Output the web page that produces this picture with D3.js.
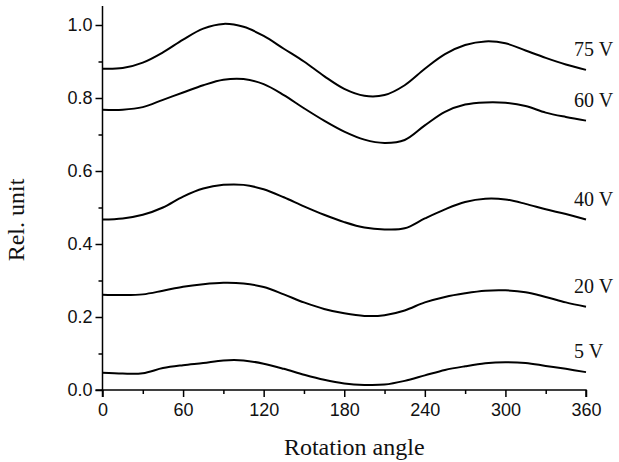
<!DOCTYPE html>
<html>
<head>
<meta charset="utf-8">
<script src="https://cdn.jsdelivr.net/npm/d3@7"></script>
<style>
  html, body { margin: 0; padding: 0; background: #fff; }
  svg { display: block; }
</style>
</head>
<body>
<svg id="chart" width="619" height="462"></svg>
<script>
// ---- data ----
const angles = [0, 15, 30, 45, 60, 75, 90, 105, 120, 135, 150, 165, 180, 195, 210, 225, 240, 255, 270, 285, 300, 315, 330, 345, 360];
const seriesNames = ["75 V", "60 V", "40 V", "20 V", "5 V"];
const v75 = [0.880, 0.882, 0.897, 0.925, 0.960, 0.990, 1.003, 0.995, 0.970, 0.935, 0.900, 0.860, 0.825, 0.806, 0.808, 0.835, 0.880, 0.920, 0.945, 0.955, 0.950, 0.930, 0.910, 0.892, 0.877];
const v60 = [0.768, 0.768, 0.775, 0.795, 0.815, 0.835, 0.850, 0.852, 0.838, 0.808, 0.772, 0.738, 0.708, 0.686, 0.677, 0.685, 0.725, 0.762, 0.782, 0.788, 0.787, 0.778, 0.760, 0.748, 0.738];
const v40 = [0.467, 0.470, 0.480, 0.500, 0.530, 0.552, 0.562, 0.562, 0.550, 0.528, 0.503, 0.480, 0.460, 0.445, 0.440, 0.443, 0.470, 0.495, 0.515, 0.524, 0.522, 0.510, 0.495, 0.482, 0.467];
const v20 = [0.261, 0.260, 0.262, 0.272, 0.283, 0.290, 0.294, 0.292, 0.282, 0.262, 0.240, 0.222, 0.210, 0.203, 0.205, 0.218, 0.240, 0.255, 0.265, 0.272, 0.273, 0.268, 0.255, 0.240, 0.228];
const v5  = [0.047, 0.045, 0.046, 0.060, 0.068, 0.074, 0.081, 0.081, 0.072, 0.058, 0.042, 0.028, 0.018, 0.014, 0.015, 0.025, 0.040, 0.055, 0.065, 0.073, 0.076, 0.074, 0.066, 0.058, 0.049];
const seriesValues = [v75, v60, v40, v20, v5];
const xTicks = [0, 60, 120, 180, 240, 300, 360];
const yTicks = [0.0, 0.2, 0.4, 0.6, 0.8, 1.0];
const xTitle = "Rotation angle";
const yTitle = "Rel. unit";

// ---- layout ----
const svg = d3.select("#chart");
const x = d3.scaleLinear().domain([0, 360]).range([102.5, 586]);
const y = d3.scaleLinear().domain([0, 1]).range([390, 25]);
const sansFont = "'Liberation Sans', Arial, sans-serif";
const serifFont = "'Liberation Serif', 'Times New Roman', serif";

// minor ticks
const xMinor = d3.range(30, 360, 60);
const yMinor = d3.range(0.1, 1.0, 0.2);

const gx = svg.append("g").attr("transform", `translate(0,${y(0)})`);
gx.call(d3.axisBottom(x).tickValues(xTicks).tickFormat(d3.format("d")).tickSize(7).tickPadding(6));
gx.append("g").call(d3.axisBottom(x).tickValues(xMinor).tickFormat("").tickSize(4))
  .select(".domain").remove();

const gy = svg.append("g").attr("transform", `translate(${x(0)},0)`);
gy.call(d3.axisLeft(y).tickValues(yTicks).tickFormat(d3.format(".1f")).tickSize(7).tickPadding(3));
gy.append("g").call(d3.axisLeft(y).tickValues(yMinor).tickFormat("").tickSize(4))
  .select(".domain").remove();
// extend y axis line above 1.0
gy.select(".domain").attr("d", `M-7,${y(0)}H0V6`);
gx.select(".domain").attr("d", `M${x(0)},7V0H${x(360)}V7`);

svg.selectAll(".tick line").attr("stroke", "#000").attr("stroke-width", 1.5);
svg.selectAll(".domain").attr("stroke", "#000").attr("stroke-width", 1.5);
svg.selectAll(".tick text").attr("font-family", sansFont).attr("font-size", 18).attr("fill", "#111");

// curves
const line = d3.line()
  .x((d, i) => x(angles[i]))
  .y(d => y(d))
  .curve(d3.curveCatmullRom.alpha(0.5));

svg.append("g").selectAll("path.series")
  .data(seriesValues)
  .join("path")
  .attr("class", "series")
  .attr("d", d => line(d))
  .attr("fill", "none")
  .attr("stroke", "#000")
  .attr("stroke-width", 2);

// series labels
svg.append("g").selectAll("text.lbl")
  .data(seriesNames)
  .join("text")
  .attr("class", "lbl")
  .attr("x", x(360) - 12)
  .attr("y", (d, i) => y(seriesValues[i][seriesValues[i].length - 1]) - 14)
  .attr("font-family", serifFont)
  .attr("font-size", 20)
  .attr("fill", "#111")
  .text(d => d);

// axis titles
svg.append("text")
  .attr("x", (x(0) + x(360)) / 2 + 10)
  .attr("y", 455)
  .attr("text-anchor", "middle")
  .attr("font-family", serifFont)
  .attr("font-size", 24)
  .attr("fill", "#111")
  .text(xTitle);

svg.append("text")
  .attr("transform", `translate(24,${220}) rotate(-90)`)
  .attr("text-anchor", "middle")
  .attr("font-family", serifFont)
  .attr("font-size", 24)
  .attr("fill", "#111")
  .text(yTitle);
</script>
</body>
</html>
